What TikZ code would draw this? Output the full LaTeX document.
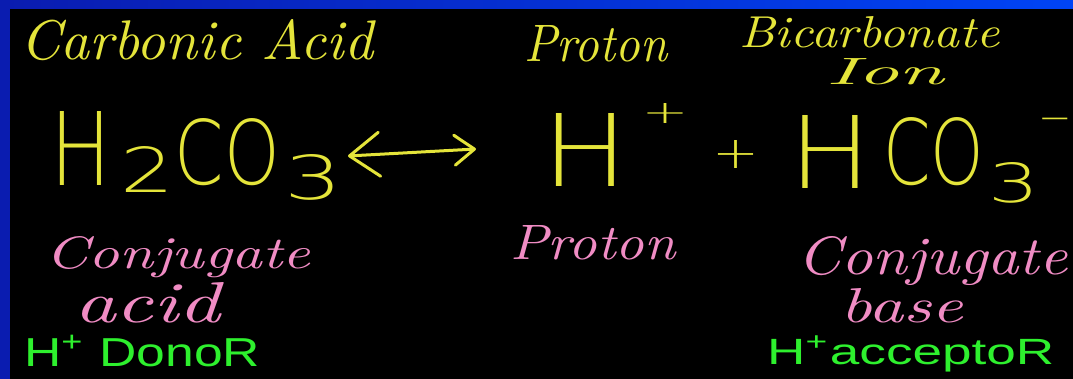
\documentclass[tikz,border=0pt]{standalone}
\usepackage{fontspec}
\usetikzlibrary{arrows.meta}
\newfontfamily\thinsans{DejaVu Sans ExtraLight}
\newfontfamily\greenfont{Liberation Sans}
\definecolor{bandblue}{HTML}{0A1CB0}
\definecolor{bandblueR}{HTML}{0044F5}
\definecolor{chalkyellow}{HTML}{E4E43A}
\definecolor{chalkpink}{HTML}{F08CC4}
\definecolor{chalkgreen}{HTML}{2EF02E}
\newcommand\fitbox[3]{\resizebox{#1pt}{#2pt}{#3}}
\begin{document}
\begin{tikzpicture}[x=1pt,y=-1pt,
  hand/.style={inner sep=0pt, anchor=base west, font=\itshape},
  yel/.style={hand, text=chalkyellow},
  pnk/.style={hand, text=chalkpink},
  grn/.style={inner sep=0pt, anchor=base west, text=chalkgreen, font=\greenfont},
  formula/.style={inner sep=0pt, anchor=base, text=chalkyellow, font=\thinsans},
  signs/.style={inner sep=0pt, anchor=center, text=chalkyellow, font=\thinsans},
  arrowline/.style={draw=chalkyellow, line width=3pt, line cap=round}]
\useasboundingbox (0,0) rectangle (1073,379);
\fill[black] (0,0) rectangle (1073,379);
\shade[left color=bandblue, right color=bandblueR] (0,0) rectangle (1073,9);
\fill[bandblue] (0,0) rectangle (10,379);

% yellow labels
\node[yel] (carbonic) at (20,60) {\fitbox{353}{40}{Carbonic Acid}};
\node[yel] (protonlbl) at (524,62) {\fitbox{143}{36}{Proton}};
\node[yel] (bicarb) at (739,48) {\fitbox{260}{31}{Bicarbonate}};
\node[yel] (ion) at (826,85) {\fitbox{118}{26}{Ion}};

% equation
\node[formula] (h1) at (80.5,186) {\fitbox{61}{74}{H}};
\node[formula] (sub2) at (147.5,193) {\fitbox{54}{46}{2}};
\node[formula] (co1) at (227.5,185) {\fitbox{105}{66}{CO}};
\node[formula] (sub3a) at (314,200) {\fitbox{58}{45}{3}};
\coordinate (arrL) at (348,156);
\coordinate (arrR) at (476,149);
\draw[arrowline, {Straight Barb[length=30pt,width=44pt,round]}-{Straight Barb[length=20pt,width=30pt,round]}] (arrL) -- (arrR);
\node[formula] (hp) at (586,187) {\fitbox{86}{73}{H}};
\node[signs] (hpsup) at (665,114) {\fitbox{47}{20}{+}};
\node[signs] (plus) at (736,155) {\fitbox{47}{28}{+}};
\node[formula] (h2) at (830.5,189) {\fitbox{82}{73}{H}};
\node[formula] (co2) at (933.5,185) {\fitbox{101}{67}{CO}};
\node[formula] (sub3b) at (1014,203) {\fitbox{51}{40}{3}};
\node[inner sep=0pt, anchor=north, text=chalkyellow, font=\thinsans\fontsize{40}{40}\selectfont] (minus) at (1055,118) {−};

% pink labels
\node[pnk] (conjA) at (45,269) {\fitbox{265}{32}{Conjugate}};
\node[pnk] (acid) at (74,322) {\fitbox{146}{40}{acid}};
\node[pnk] (protonP) at (510,260) {\fitbox{165}{34}{Proton}};
\node[pnk] (conjB) at (797,275) {\fitbox{270}{38}{Conjugate}};
\node[pnk] (base) at (840,322) {\fitbox{123}{34}{base}};

% green labels
\node[grn] (donor) at (24,366) {\fitbox{236}{31}{H\textsuperscript{+} DonoR}};
\node[grn] (acceptor) at (767,364) {\fitbox{287}{28}{H\textsuperscript{+}acceptoR}};
\end{tikzpicture}
\end{document}
